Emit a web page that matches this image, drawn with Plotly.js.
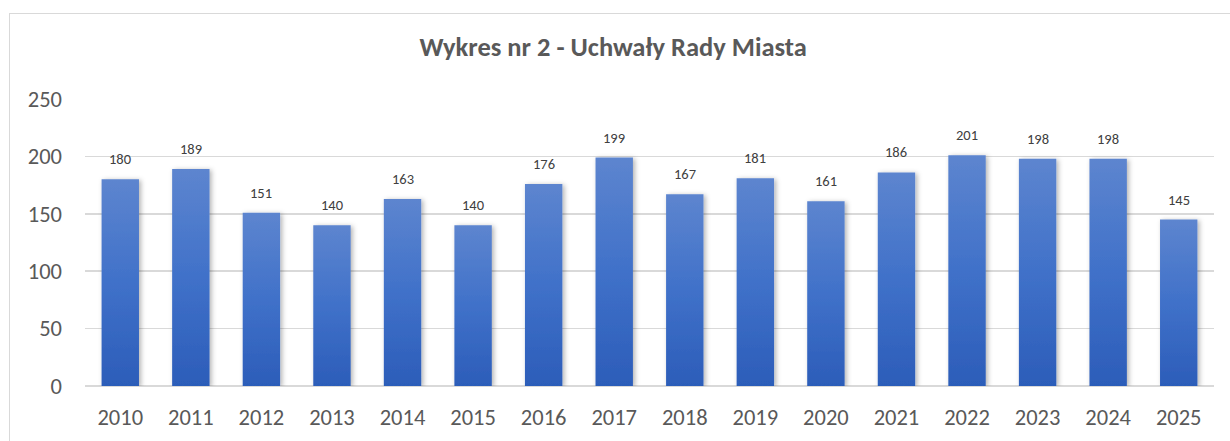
<!DOCTYPE html>
<html>
<head>
<meta charset="utf-8">
<script src="https://cdn.plot.ly/plotly-3.0.1.min.js"></script>
<style>
  html, body { margin: 0; padding: 0; background: #fff; }
  #wrap { position: relative; width: 1230px; height: 441px; overflow: hidden; }
  #chart { width: 1230px; height: 441px; }
  #frame { position: absolute; left: 9px; top: 13px; width: 1260px; height: 460px;
           border: 1px solid #d9d9d9; pointer-events: none; box-sizing: border-box; }
</style>
</head>
<body>
<div id="wrap">
  <div id="chart"></div>
  <div id="frame"></div>
</div>
<script>
const years = ['2010','2011','2012','2013','2014','2015','2016','2017','2018','2019','2020','2021','2022','2023','2024','2025'];
const uchwaly = [180, 189, 151, 140, 163, 140, 176, 199, 167, 181, 161, 186, 201, 198, 198, 145];
const chartTitle = 'Wykres nr 2 - Uchwały Rady Miasta';
const yTicks = [0, 50, 100, 150, 200, 250];

const FONT = 'Carlito, Lato, "Open Sans", sans-serif';

const trace = {
  type: 'bar',
  x: years,
  y: uchwaly,
  width: 0.53,
  marker: { color: '#4472C4', line: { width: 0 } },
  hoverinfo: 'none'
};

// category axis: annotation x uses the category index
const annotations = years.map((yr, i) => ({
  x: i, y: uchwaly[i], xref: 'x', yref: 'y',
  text: String(uchwaly[i]), showarrow: false,
  yanchor: 'bottom', yshift: 9,
  font: { family: FONT, size: 14.5, color: '#404040' }
}));

const layout = {
  width: 1230, height: 441,
  margin: { l: 85, r: 16, t: 99, b: 55 },
  paper_bgcolor: 'rgba(0,0,0,0)',
  plot_bgcolor: 'rgba(0,0,0,0)',
  showlegend: false,
  title: {
    text: '<b>' + chartTitle + '</b>',
    x: 0.4985, xanchor: 'center',
    y: 1 - 47 / 441, yref: 'container', yanchor: 'middle',
    font: { family: FONT, size: 26.5, color: '#595959' }
  },
  xaxis: {
    type: 'category', range: [-0.5, years.length - 0.5],
    showgrid: false, zeroline: false, showline: false,
    ticks: '', ticklabelstandoff: 15,
    tickfont: { family: FONT, size: 22.5, color: '#595959' }
  },
  yaxis: {
    range: [0, 250], tickvals: yTicks, ticktext: yTicks.map(String),
    showgrid: true, gridcolor: '#d9d9d9', gridwidth: 1.5,
    zeroline: true, zerolinecolor: '#d9d9d9', zerolinewidth: 1.5,
    showline: false, ticks: '', ticklabelstandoff: 22,
    tickfont: { family: FONT, size: 22.5, color: '#595959' }
  },
  annotations: annotations
};

Plotly.newPlot('chart', [trace], layout, { staticPlot: true, displayModeBar: false }).then(gd => {
  const svg = gd.querySelector('svg.main-svg');
  const ns = 'http://www.w3.org/2000/svg';
  let defs = svg.querySelector('defs');
  if (!defs) { defs = document.createElementNS(ns, 'defs'); svg.insertBefore(defs, svg.firstChild); }
  const grad = document.createElementNS(ns, 'linearGradient');
  grad.setAttribute('id', 'barGrad');
  grad.setAttribute('x1', '0'); grad.setAttribute('y1', '0');
  grad.setAttribute('x2', '0'); grad.setAttribute('y2', '1');
  [['0%', '#5D85CF'], ['50%', '#4071C9'], ['100%', '#2C5DB9']].forEach(([o, c]) => {
    const s = document.createElementNS(ns, 'stop');
    s.setAttribute('offset', o); s.setAttribute('stop-color', c);
    grad.appendChild(s);
  });
  defs.appendChild(grad);
  const filt = document.createElementNS(ns, 'filter');
  filt.setAttribute('id', 'barShadow');
  filt.setAttribute('x', '-30%'); filt.setAttribute('y', '-10%');
  filt.setAttribute('width', '160%'); filt.setAttribute('height', '120%');
  const ds = document.createElementNS(ns, 'feDropShadow');
  ds.setAttribute('dx', '2'); ds.setAttribute('dy', '1');
  ds.setAttribute('stdDeviation', '2.5');
  ds.setAttribute('flood-color', '#000'); ds.setAttribute('flood-opacity', '0.3');
  filt.appendChild(ds);
  defs.appendChild(filt);
  gd.querySelectorAll('.bars .point path').forEach(p => {
    p.style.fill = 'url(#barGrad)';
    p.setAttribute('filter', 'url(#barShadow)');
  });
});
</script>
</body>
</html>
